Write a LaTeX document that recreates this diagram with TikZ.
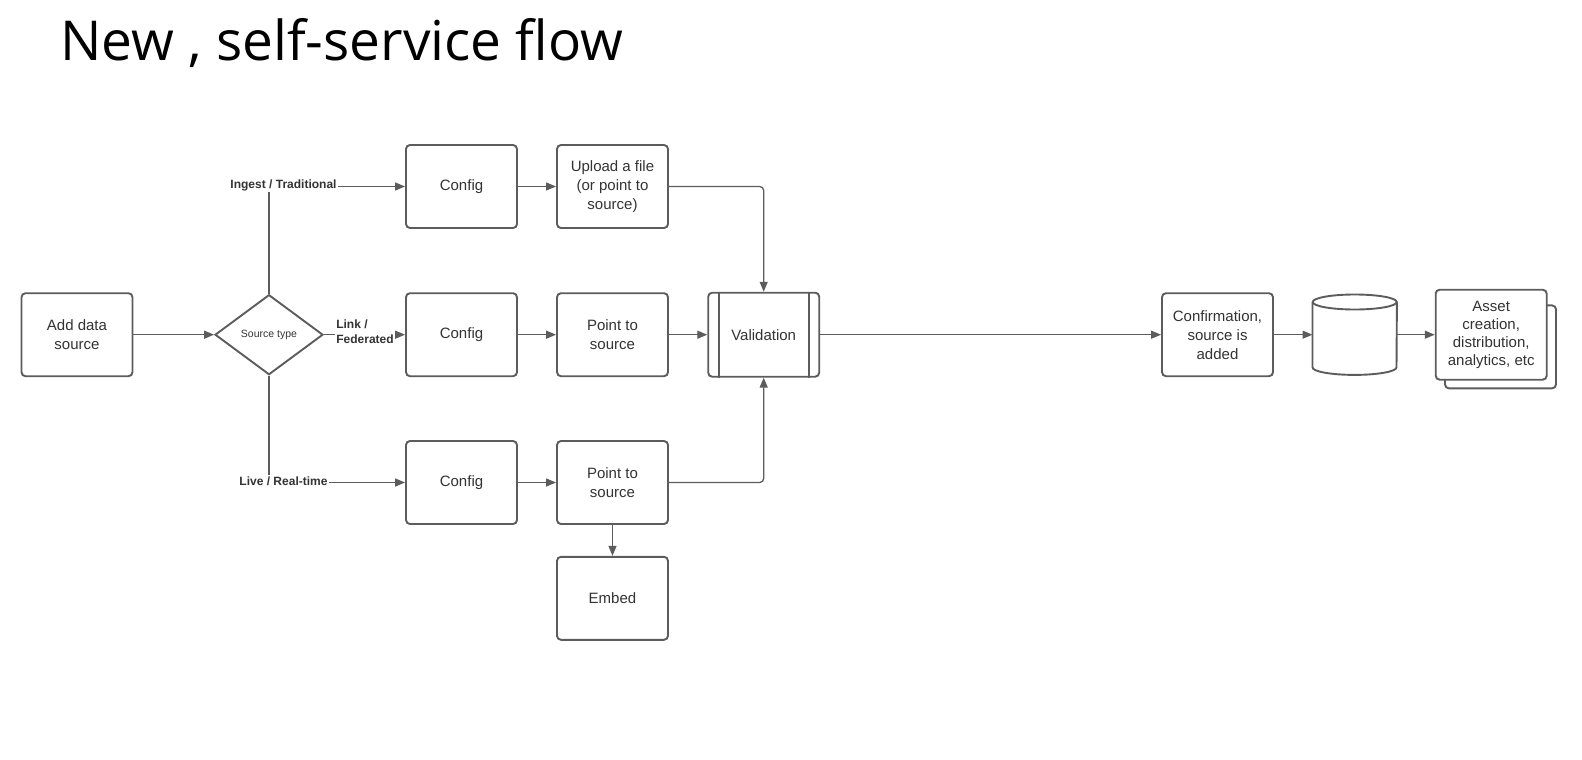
\documentclass[tikz,border=0pt]{standalone}
\usepackage{fontspec}
\setmainfont{Liberation Sans}
\newfontfamily\titlefont{Open Sans}
\usetikzlibrary{arrows.meta,shapes.geometric}
\definecolor{linec}{HTML}{5C5C5C}
\definecolor{textc}{HTML}{333333}
\tikzset{
  boxline/.style={draw=linec, line width=1.9pt},
  box/.style={boxline, rounded corners=4pt, minimum width=111pt, minimum height=83pt,
    align=center, inner sep=2pt, text=textc, font=\fontsize{15}{19}\selectfont, fill=white},
  conn/.style={draw=linec, line width=1.3pt, -{Triangle[length=10pt,width=8pt]}},
  lbl/.style={fill=white, inner sep=1.5pt, text=textc, font=\bfseries\fontsize{12}{15}\selectfont},
}
\begin{document}
\begin{tikzpicture}[x=1pt,y=-1pt]
\useasboundingbox (0,0) rectangle (1582,760);
% title
\node[anchor=base west, inner sep=0, font=\titlefont\fontsize{55}{60}\selectfont] (title) at (60,60) {New , self-service flow};
% nodes
\node[box] (add) at (77,334.7) {Add data\\source};
\node[boxline, diamond, minimum width=108pt, minimum height=80pt, inner sep=0, text=textc,
  font=\fontsize{10.5}{12}\selectfont] (dia) at (269,334.7) {Source type};
\node[box] (c1) at (461.5,186.5) {Config};
\node[box] (c2) at (461.5,334.7) {Config};
\node[box] (c3) at (461.5,482.5) {Config};
\node[box] (up) at (612.5,186.5) {Upload a file\\(or point to\\source)};
\node[box] (p2) at (612.5,334.7) {Point to\\source};
\node[box] (p3) at (612.5,482.5) {Point to\\source};
\node[box] (emb) at (612.5,598.3) {Embed};
\node[box, minimum height=84pt] (val) at (763.7,334.7) {Validation};
\draw[boxline] ([xshift=12pt]val.north west) -- ([xshift=12pt]val.south west);
\draw[boxline] ([xshift=-11.5pt]val.north east) -- ([xshift=-11.5pt]val.south east);
\node[box] (conf) at (1217.5,334.7) {Confirmation,\\source is\\added};
% cylinder
\node[minimum width=84pt, minimum height=80pt, inner sep=0] (cyl) at (1354.7,334.7) {};
\draw[boxline] ([yshift=-7.5pt]cyl.north west) -- ([yshift=7.5pt]cyl.south west)
  arc[start angle=180, end angle=360, x radius=42pt, y radius=7.5pt]
  -- ([yshift=-7.5pt]cyl.north east);
\draw[boxline] ([yshift=-7.5pt]cyl.north) ellipse[x radius=42pt, y radius=7.5pt];
% asset stack
\node[box, minimum height=83pt] (assetback) at (1500.5,346.9) {};
\node[box, minimum height=90pt, font=\fontsize{15}{18}\selectfont] (asset) at (1491.2,334.7) {Asset\\creation,\\distribution,\\analytics, etc};
% connectors
\draw[conn] (add.east) -- (dia.west);
\draw[conn] (dia.north) |- (c1.west);
\node[lbl] (l1) at (283.5,185) {Ingest / Traditional};
\draw[conn] (dia.east) -- (c2.west);
\node[lbl, align=left] (l2) at (365,332) {Link /\\Federated};
\draw[conn] (dia.south) |- (c3.west);
\node[lbl] (l3) at (283.5,481) {Live / Real-time};
\draw[conn] (c1.east) -- (up.west);
\draw[conn] (c2.east) -- (p2.west);
\draw[conn] (c3.east) -- (p3.west);
\draw[conn, rounded corners=4pt] (up.east) -| (val.north);
\draw[conn] (p2.east) -- (val.west);
\draw[conn, rounded corners=4pt] (p3.east) -| (val.south);
\draw[conn] (p3.south) -- (emb.north);
\draw[conn] (val.east) -- (conf.west);
\draw[conn] (conf.east) -- (cyl.west);
\draw[conn] (cyl.east) -- (asset.west);
\end{tikzpicture}
\end{document}
